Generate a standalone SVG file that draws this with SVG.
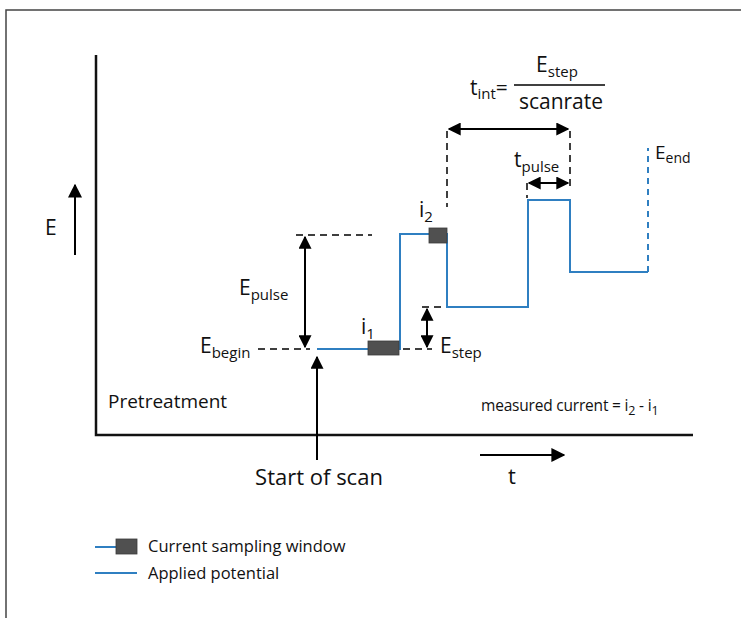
<svg xmlns="http://www.w3.org/2000/svg" width="741" height="618" viewBox="0 0 741 618">
<style>
text{font-family:"Open Sans","Liberation Sans",sans-serif;fill:#111}
.ax{stroke:#111;stroke-width:2.5;fill:none}
.blk{stroke:#000;stroke-width:2;fill:none}
.dash{stroke:#000;stroke-width:1.5;fill:none;stroke-dasharray:7,5}
.pot{stroke:#2f7fc1;stroke-width:2;fill:none}
.win{fill:#505050;stroke:#3a3a3a;stroke-width:0.8}
.lbl{font-size:21px}
.sub{font-size:15px}
</style>
<defs>
<marker id="ah" viewBox="0 0 10 10" refX="9" refY="5" markerWidth="6.5" markerHeight="6.5" orient="auto-start-reverse">
<path d="M0,0 L10,5 L0,10 z" fill="#000"/>
</marker>
<marker id="ahb" viewBox="0 0 10 10" refX="9" refY="5" markerWidth="7" markerHeight="7" orient="auto">
<path d="M0,0 L10,5 L0,10 z" fill="#000"/>
</marker>
</defs>
<g id="frame"><path d="M6,618 V10 H741" stroke="#444" stroke-width="1.5" fill="none"/></g>
<g id="axes">
<path class="ax" d="M96,55 V435 H693"/>
<line class="blk" x1="75" y1="255" x2="75" y2="185" marker-end="url(#ahb)" stroke-width="2.5"/>
<text x="45" y="235" class="lbl">E</text>
<line class="blk" x1="480" y1="455" x2="564" y2="455" marker-end="url(#ahb)" stroke-width="2.5"/>
<text x="508" y="484" font-size="22">t</text>
</g>
<g id="potential">
<path class="pot" d="M317,349 H400 V234 H447 V307 H528 V200 H570 V272 H648"/>
<line class="pot" x1="648" y1="272" x2="648" y2="148" stroke-dasharray="6,5"/>
<rect class="win" x="368" y="341" width="31" height="14"/>
<rect class="win" x="429" y="228" width="18" height="15"/>
<text x="361" y="334" class="lbl">i<tspan class="sub" dy="5">1</tspan></text>
<text x="419" y="217" class="lbl">i<tspan class="sub" dy="5">2</tspan></text>
<text x="655" y="159" font-size="19">E<tspan font-size="14" dy="4">end</tspan></text>
</g>
<g id="connectors">
<line class="dash" x1="258" y1="349" x2="310" y2="349"/>
<line class="dash" x1="296" y1="235" x2="372" y2="235"/>
<line class="blk" x1="305" y1="237" x2="305" y2="347" marker-start="url(#ah)" marker-end="url(#ah)"/>
<line class="dash" x1="403" y1="349" x2="432" y2="349"/>
<line class="dash" x1="422" y1="307" x2="446" y2="307"/>
<line class="blk" x1="427" y1="309" x2="427" y2="347" marker-start="url(#ah)" marker-end="url(#ah)"/>
<line class="blk" x1="317" y1="460" x2="317" y2="357" marker-end="url(#ah)" stroke-width="2"/>
<line class="dash" x1="447" y1="131" x2="447" y2="207"/>
<line class="dash" x1="570" y1="131" x2="570" y2="190"/>
<line class="dash" x1="527" y1="183" x2="527" y2="198"/>
<line class="blk" x1="449" y1="129" x2="568" y2="129" marker-start="url(#ah)" marker-end="url(#ah)" stroke-width="2.2"/>
<line class="blk" x1="529" y1="183" x2="568" y2="183" marker-start="url(#ah)" marker-end="url(#ah)" stroke-width="2.2"/>
</g>
<g id="labels">
<text x="239" y="295" class="lbl">E<tspan class="sub" dy="5">pulse</tspan></text>
<text x="200" y="353" class="lbl">E<tspan class="sub" dy="5">begin</tspan></text>
<text x="440" y="353" class="lbl">E<tspan class="sub" dy="5">step</tspan></text>
<text x="514" y="167" class="lbl">t<tspan class="sub" dy="5">pulse</tspan></text>
<text x="470" y="95" class="lbl">t<tspan class="sub" dy="4">int</tspan><tspan dy="-4">=</tspan></text>
<line x1="514" y1="85" x2="605" y2="85" stroke="#000" stroke-width="1.5"/>
<text x="557" y="72" class="lbl" text-anchor="middle">E<tspan class="sub" dy="5">step</tspan></text>
<text x="561" y="109" class="lbl" text-anchor="middle">scanrate</text>
<text x="108" y="408" font-size="19">Pretreatment</text>
<text x="481" y="411" font-size="15.5" letter-spacing="-0.2">measured current = i<tspan font-size="12.5" dy="4">2</tspan><tspan dy="-4"> - i</tspan><tspan font-size="12.5" dy="4">1</tspan></text>
<text x="319" y="485" font-size="22" text-anchor="middle">Start of scan</text>
</g>
<g id="legend">
<line class="pot" x1="95" y1="547" x2="118" y2="547"/>
<rect class="win" x="116" y="539" width="21" height="15"/>
<text x="148" y="552" font-size="16.5">Current sampling window</text>
<line class="pot" x1="95" y1="573" x2="137" y2="573"/>
<text x="148" y="579" font-size="16.5">Applied potential</text>
</g>
</svg>
